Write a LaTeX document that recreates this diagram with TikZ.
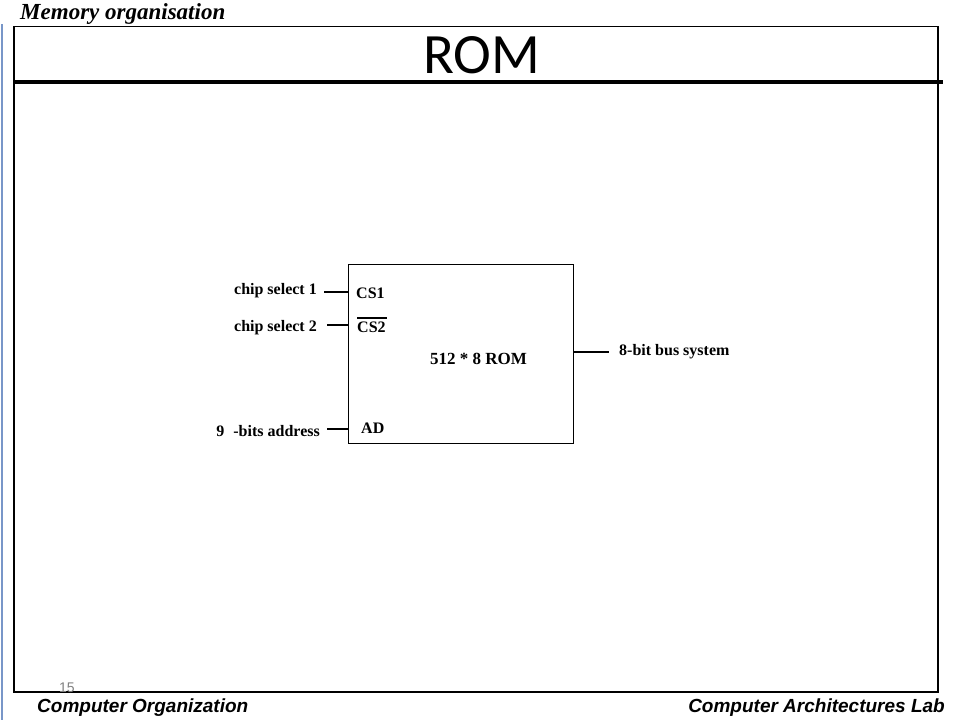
\documentclass[tikz,border=0pt]{standalone}
\usepackage{fontspec}
\setmainfont{Liberation Serif}
\newfontfamily\titlefont{Carlito}
\newfontfamily\footfont{Liberation Sans}
\usetikzlibrary{positioning}
\tikzset{
  lbl/.style={font=\fontsize{16}{18}\selectfont\bfseries, inner sep=0pt},
  pin/.style={line width=2pt},
  foot/.style={font=\footfont\fontsize{19}{21}\selectfont\bfseries\itshape, inner sep=0pt},
}
\begin{document}
\begin{tikzpicture}[x=1pt,y=-1pt]
\useasboundingbox (0,0) rectangle (960,720);
% left blue edge
\draw[color={rgb,255:red,120;green,150;blue,200}, line width=2pt] (1.5,24) -- (1.5,720);
% header
\node[anchor=base west, inner sep=0pt, font=\fontsize{23}{25}\selectfont\bfseries\itshape] (hdr) at (20,19) {Memory organisation};
% frame
\draw[line width=1.6pt] (14,692) -- (14,26.5) -- (938,26.5) -- (938,692) -- cycle;
\draw[line width=4pt] (14,81.5) -- (943,81.5);
% title
\node[anchor=base, inner sep=0pt, font=\titlefont\fontsize{57}{60}\selectfont] (title) at (481.5,73.5) {ROM};
% page number
\node[anchor=base west, inner sep=0pt, text=black!50, font=\footfont\fontsize{14}{16}\selectfont] (pg) at (59,692) {15};
% footers
\node[foot, anchor=base west] (f1) at (37,712) {Computer Organization};
\node[foot, anchor=base east] (f2) at (945,712) {Computer Architectures Lab};
% ROM box
\node[draw, line width=1pt, minimum width=225.5pt, minimum height=179pt, inner sep=0pt, anchor=north west] (box) at (347.5,264) {};
\node[lbl] (rom) at (478.5,359) {\fontsize{17}{19}\selectfont 512 * 8 ROM};
% inner pin labels
\node[lbl, anchor=west] (cs1) at (356,293) {CS1};
\node[lbl, anchor=west] (cs2) at (357,327) {CS2};
\draw[line width=1.4pt] ([yshift=3.5pt]cs2.north west) coordinate (ol1) -- ([xshift=1pt,yshift=3.5pt]cs2.north east) coordinate (ol2);
\node[lbl, anchor=west] (ad) at (361,428) {AD};
% outer labels
\node[lbl, anchor=east] (l1) at (317,291) {chip select 1};
\node[lbl, anchor=east] (l2) at (317,328) {chip select 2};
\node[lbl, anchor=east] (l3) at (320,431) {9\hspace{9pt}-bits address};
\node[lbl, anchor=west] (l4) at (619,352) {8-bit bus system};
% pin lines
\draw[pin] (324,292.3) -- (box.west |- 0,292.3);
\draw[pin] (327,325) -- (box.west |- 0,325);
\draw[pin] (327,429) -- (box.west |- 0,429);
\draw[pin] (box.east |- 0,351.7) -- (609,351.7);
\end{tikzpicture}
\end{document}
